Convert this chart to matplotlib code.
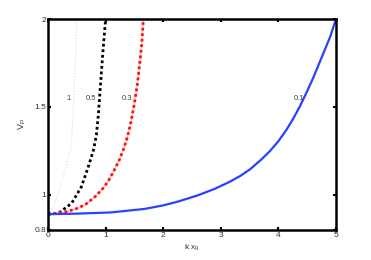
import numpy as np
import matplotlib
matplotlib.use('Agg')
import matplotlib.pyplot as plt

plt.rcParams['font.family'] = ['Liberation Sans', 'DejaVu Sans']
plt.rcParams['mathtext.fontset'] = 'custom'
plt.rcParams['mathtext.rm'] = 'Liberation Sans'
plt.rcParams['mathtext.it'] = 'Liberation Sans'

# curves: k x0 -> V_P, one per parameter value
x_01 = [0, 0.5, 1.1, 1.68, 2.0, 2.26, 2.6, 2.9, 3.16, 3.35, 3.51, 3.7, 3.85,
        4.0, 4.14, 4.26, 4.375, 4.5, 4.61, 4.78, 4.9, 5.0]
v_01 = [0.89, 0.893, 0.9, 0.92, 0.94, 0.962, 0.997, 1.035, 1.075, 1.11,
        1.146, 1.2, 1.248, 1.305, 1.37, 1.435, 1.505, 1.59, 1.67, 1.805,
        1.9, 2.0]

x_03 = [0, 0.12, 0.3, 0.47, 0.65, 0.82, 0.95, 1.05, 1.15, 1.24, 1.31, 1.38,
        1.44, 1.5, 1.55, 1.6, 1.63, 1.655]
v_03 = [0.89, 0.895, 0.903, 0.918, 0.945, 0.99, 1.035, 1.08, 1.14, 1.2,
        1.258, 1.33, 1.415, 1.52, 1.625, 1.77, 1.87, 2.0]

x_05 = [0, 0.18, 0.41, 0.58, 0.70, 0.79, 0.84, 0.875, 0.91, 0.95, 1.0]
v_05 = [0.89, 0.895, 0.952, 1.046, 1.16, 1.255, 1.34, 1.46, 1.62, 1.8, 2.0]

x_1 = [0, 0.06, 0.18, 0.30, 0.38, 0.41, 0.44, 0.47, 0.5]
v_1 = [0.89, 0.914, 1.01, 1.14, 1.255, 1.31, 1.5, 1.72, 2.0]

labels = ['1', '0.5', '0.3', '0.1']
label_x = [0.35, 0.75, 1.37, 4.35]
label_y = 1.55

xticks = [0, 1, 2, 3, 4, 5]
yticks = [0.8, 1, 1.5, 2]
ytick_labels = ['0.8', '1', '1.5', '2']

fig = plt.figure(figsize=(3.71, 2.6), dpi=100)
ax = fig.add_axes([0.1294, 0.1154, 0.7763, 0.8115])

ax.plot(x_1, v_1, color='#a8f0e4', lw=0.8, ls=':')
ax.plot(x_05, v_05, color='black', lw=2.0, ls=(0, (1, 1)))
ax.plot(x_03, v_03, color='#ffb0b0', lw=0.8)
ax.plot(x_03, v_03, color='#ff1010', lw=2.0, ls=(0, (1, 1)))
ax.plot(x_01, v_01, color='#2a40ff', lw=1.6)

for lab, lx in zip(labels, label_x):
    ax.text(lx, label_y, lab, fontsize=5.5, color='#404040',
            ha='center', va='center')

ax.set_xlim(0, 5)
ax.set_ylim(0.8, 2)
ax.set_xticks(xticks)
ax.set_yticks(yticks)
ax.set_yticklabels(ytick_labels)
ax.tick_params(direction='in', length=2, width=1.5, labelsize=6,
               top=True, right=True, pad=1.5, colors='black',
               labelcolor='#303030')
for s in ax.spines.values():
    s.set_linewidth(1.8)

ax.set_xlabel(r'k x$_0$', fontsize=6, color='#303030', labelpad=3)
ax.set_ylabel(r'V$_\mathrm{P}$', fontsize=6.5, color='#303030', labelpad=4)

fig.savefig('out.png', dpi=100)
